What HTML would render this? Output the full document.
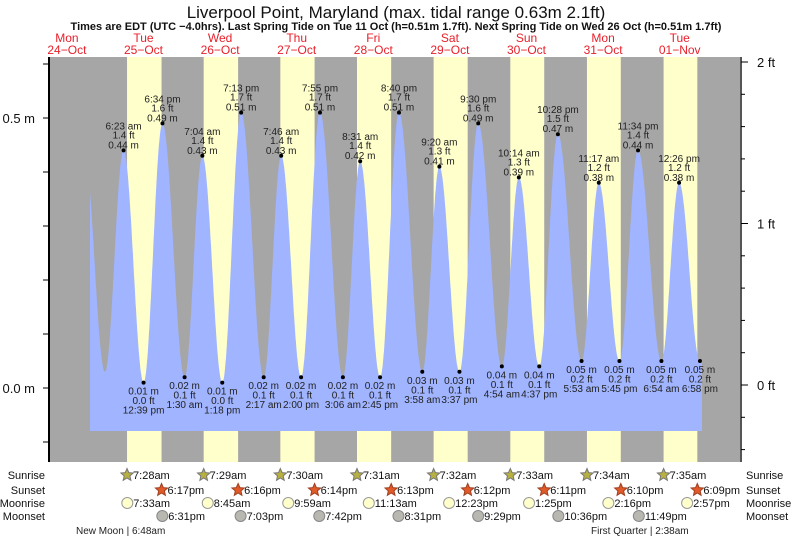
<!DOCTYPE html>
<html><head><meta charset="utf-8"><style>
html,body{margin:0;padding:0;background:#fff;}
svg{display:block;font-family:"Liberation Sans",sans-serif;}
</style></head><body>
<svg id="chart" width="793" height="539" viewBox="0 0 793 539" xmlns="http://www.w3.org/2000/svg">
<text x="396" y="18" text-anchor="middle" font-size="17" fill="#111">Liverpool Point, Maryland (max. tidal range 0.63m 2.1ft)</text>
<text x="396" y="30" text-anchor="middle" font-size="11" font-weight="bold" fill="#111">Times are EDT (UTC −4.0hrs). Last Spring Tide on Tue 11 Oct (h=0.51m 1.7ft). Next Spring Tide on Wed 26 Oct (h=0.51m 1.7ft)</text>
<g id="days"></g>
<g id="plot"></g>
<g id="axes"></g>
<g id="labels"></g>
<g id="astro"></g>
</svg>
<script>
// ---- data ----
const dayNames = ["Mon","Tue","Wed","Thu","Fri","Sat","Sun","Mon","Tue"];
const dayDates = ["24\u2212Oct","25\u2212Oct","26\u2212Oct","27\u2212Oct","28\u2212Oct","29\u2212Oct","30\u2212Oct","31\u2212Oct","01\u2212Nov"];
// tide extremes: hours since Mon 24 Oct 00:00
const tideHours = [18.0, 24.55, 30.38, 36.65, 42.57, 49.5, 55.07, 61.3, 67.22, 74.28, 79.77, 86.0, 91.92, 99.1, 104.52, 110.75, 116.67, 123.97, 129.33, 135.62, 141.5, 148.9, 154.23, 160.62, 166.47, 173.88, 179.28, 185.75, 191.57, 198.9, 204.43, 210.97];
const tideMeters = [0.44, 0.03, 0.44, 0.01, 0.49, 0.02, 0.43, 0.01, 0.51, 0.02, 0.43, 0.02, 0.51, 0.02, 0.42, 0.02, 0.51, 0.03, 0.41, 0.03, 0.49, 0.04, 0.39, 0.04, 0.47, 0.05, 0.38, 0.05, 0.44, 0.05, 0.38, 0.05];
const tideFeet = ["","","1.4","0.0","1.6","0.1","1.4","0.0","1.7","0.1","1.4","0.1","1.7","0.1","1.4","0.1","1.7","0.1","1.3","0.1","1.6","0.1","1.3","0.1","1.5","0.2","1.2","0.2","1.4","0.2","1.2","0.2"];
const tideTimes = ["","","6:23 am","12:39 pm","6:34 pm","1:30 am","7:04 am","1:18 pm","7:13 pm","2:17 am","7:46 am","2:00 pm","7:55 pm","3:06 am","8:31 am","2:45 pm","8:40 pm","3:58 am","9:20 am","3:37 pm","9:30 pm","4:54 am","10:14 am","4:37 pm","10:28 pm","5:53 am","11:17 am","5:45 pm","11:34 pm","6:54 am","12:26 pm","6:58 pm"];
const sunriseH = [7.47,7.48,7.5,7.52,7.53,7.55,7.57,7.58];
const sunsetH = [18.28,18.27,18.23,18.22,18.2,18.18,18.17,18.15];
const sunriseT = ["7:28am","7:29am","7:30am","7:31am","7:32am","7:33am","7:34am","7:35am"];
const sunsetT = ["6:17pm","6:16pm","6:14pm","6:13pm","6:12pm","6:11pm","6:10pm","6:09pm"];
const moonriseH = [7.55,8.75,9.98,11.22,12.38,13.42,14.27,14.95];
const moonriseT = ["7:33am","8:45am","9:59am","11:13am","12:23pm","1:25pm","2:16pm","2:57pm"];
const moonsetH = [18.52,19.05,19.7,20.52,21.48,22.6,23.82];
const moonsetT = ["6:31pm","7:03pm","7:42pm","8:31pm","9:29pm","10:36pm","11:49pm"];
const mTicks = [0.0, 0.5];
const ftTicks = [0, 1, 2];

// ---- scales ----
const X0=26.6, DAY=76.6, PX0=50, PX1=740, PT=57, PB=462;
const xs = h => X0 + h/24*DAY;
const ym = v => 388 - 540*v;
const yft = f => 385 - 161.5*f;
const NS="http://www.w3.org/2000/svg";
function mk(tag, attrs, parent, text){const e=document.createElementNS(NS,tag);for(const k in attrs)e.setAttribute(k,attrs[k]);if(text!==undefined)e.textContent=text;parent.appendChild(e);return e;}
const plot=document.getElementById('plot'), axes=document.getElementById('axes'), labels=document.getElementById('labels'), astro=document.getElementById('astro'), days=document.getElementById('days');

// day labels
dayNames.forEach((d,i)=>{
  const cx = xs(i*24+12)+2;
  const t=mk('text',{x:cx,y:42,'text-anchor':'middle','font-size':12,fill:'#e8202a'},days,d);
  
  
  const t2=mk('text',{x:cx,y:54,'text-anchor':'middle','font-size':12,fill:'#e8202a'},days,dayDates[i]);
  
  
});

// background
const bg=mk('rect',{x:PX0,y:PT,width:PX1-PX0,height:PB-PT,fill:'#a6a6a6'},plot);


sunriseH.forEach((h,i)=>{
  const x1=xs((i+1)*24+h), x2=xs((i+1)*24+sunsetH[i]);
  const r=mk('rect',{x:x1,y:PT,width:x2-x1,height:PB-PT,fill:'#ffffcc'},plot);
  
  
});

// tide curve (cosine interpolation between extremes)
const startH=(90-X0)/DAY*24, endH=(702-X0)/DAY*24;
function val(h){
  for(let i=0;i<tideHours.length-1;i++){
    if(h>=tideHours[i]&&h<=tideHours[i+1]){
      const f=(h-tideHours[i])/(tideHours[i+1]-tideHours[i]);
      const a=tideMeters[i], b=tideMeters[i+1];
      return b+(a-b)*(1+Math.cos(Math.PI*f))/2;
    }
  }
  return tideMeters[tideMeters.length-1];
}
let d=`M${xs(startH).toFixed(1)},431 `;
for(let h=startH;h<=endH;h+=0.1){d+=`L${xs(h).toFixed(1)},${ym(val(h)).toFixed(1)} `;}
d+=`L${xs(endH).toFixed(1)},${ym(val(endH)).toFixed(1)} L${xs(endH).toFixed(1)},431 Z`;
const area=mk('path',{d:d,fill:'#a0b4ff'},plot);



// axes
mk('line',{x1:49,y1:PT,x2:49,y2:PB,stroke:'#000','stroke-width':2},axes);
mk('line',{x1:741,y1:PT,x2:741,y2:PB,stroke:'#555','stroke-width':2},axes);
for(let v=-0.1;v<=0.6;v+=0.1){const y=ym(v);if(y<PT||y>PB)continue;mk('line',{x1:43,y1:y,x2:49,y2:y,stroke:'#000'},axes);}
mTicks.forEach(v=>{
  const t=mk('text',{x:35,y:ym(v)+5,'text-anchor':'end','font-size':13,fill:'#111'},axes,v.toFixed(1)+' m');
  
  
});
for(let f=-0.4;f<=2.01;f+=0.2){const y=yft(f);if(y<PT||y>PB)continue;mk('line',{x1:741,y1:y,x2:745,y2:y,stroke:'#000'},axes);}
ftTicks.forEach(f=>{
  mk('line',{x1:741,y1:yft(f),x2:748,y2:yft(f),stroke:'#000'},axes);
  const t=mk('text',{x:757,y:yft(f)+5,'font-size':13,fill:'#111'},axes,f+' ft');
  
  
});

// tide labels
tideHours.forEach((h,i)=>{
  if(!tideTimes[i])return;
  const x=xs(h), y=ym(tideMeters[i]);
  const dot=mk('circle',{cx:x,cy:y,r:2,fill:'#000'},labels);
  
  
  const high = tideMeters[i]>0.2;
  const lines = high ? [[tideTimes[i],-21],[tideFeet[i]+' ft',-12],[tideMeters[i].toFixed(2)+' m',-2]]
                     : [[tideMeters[i].toFixed(2)+' m',12],[tideFeet[i]+' ft',21.5],[tideTimes[i],31]];
  lines.forEach(l=>{
    const t=mk('text',{x:x,y:y+l[1],'text-anchor':'middle','font-size':10,fill:'#222'},labels,l[0]);
    
    
  });
});

// astro rows
const rowY=[475,490,503,516];
const rowNames=["Sunrise","Sunset","Moonrise","Moonset"];
rowNames.forEach((n,i)=>{
  const a=mk('text',{x:45,y:rowY[i]+4,'text-anchor':'end','font-size':11,fill:'#111'},astro,n);
  
  
  const b=mk('text',{x:746,y:rowY[i]+4,'font-size':11,fill:'#111'},astro,n);
  
  
});
function star(cx,cy,fill,stroke){
  let p='';for(let k=0;k<10;k++){const r=k%2?3:6.5;const a=-Math.PI/2+k*Math.PI/5;p+=(cx+r*Math.cos(a)).toFixed(1)+','+(cy+r*Math.sin(a)).toFixed(1)+' ';}
  return mk('polygon',{points:p,fill:fill,stroke:stroke,'stroke-width':1},astro);
}
sunriseH.forEach((h,i)=>{
  const x=xs((i+1)*24+h);
  const s=star(x,rowY[0],'#b8b040','#777');
  
  
  const t=mk('text',{x:x+6,y:rowY[0]+4,'font-size':11,fill:'#111'},astro,sunriseT[i]);
  
  
  const x2=xs((i+1)*24+sunsetH[i]);
  const s2=star(x2,rowY[1],'#e05a2a','#a04020');
  
  
  const t2=mk('text',{x:x2+6,y:rowY[1]+4,'font-size':11,fill:'#111'},astro,sunsetT[i]);
  
  
});
moonriseH.forEach((h,i)=>{
  const x=xs((i+1)*24+h);
  const c=mk('circle',{cx:x,cy:rowY[2],r:5.5,fill:'#ffffcc',stroke:'#999'},astro);
  
  
  const t=mk('text',{x:x+6,y:rowY[2]+4,'font-size':11,fill:'#111'},astro,moonriseT[i]);
  
  
});
moonsetH.forEach((h,i)=>{
  const x=xs((i+1)*24+h);
  const c=mk('circle',{cx:x,cy:rowY[3],r:5.5,fill:'#b8b8b0',stroke:'#888'},astro);
  
  
  const t=mk('text',{x:x+6,y:rowY[3]+4,'font-size':11,fill:'#111'},astro,moonsetT[i]);
  
  
});
const nm=mk('text',{x:76,y:534,'font-size':10,fill:'#222'},astro,'New Moon | 6:48am');


const fq=mk('text',{x:591,y:534,'font-size':10,fill:'#222'},astro,'First Quarter | 2:38am');


</script>
</body></html>
